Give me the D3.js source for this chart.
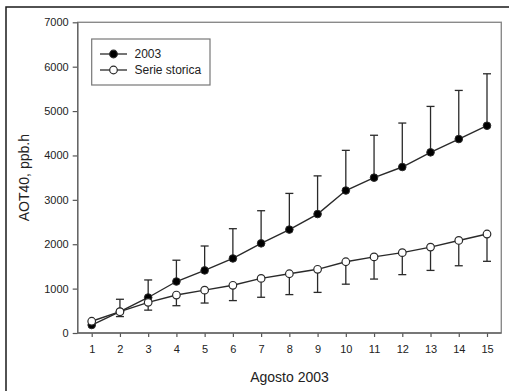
<!DOCTYPE html>
<html>
<head>
<meta charset="utf-8">
<script src="https://cdn.jsdelivr.net/npm/d3@7"></script>
<style>
  html, body { margin: 0; padding: 0; background: #fff; }
  svg { display: block; font-family: "Liberation Sans", Arial, Helvetica, sans-serif; }
</style>
</head>
<body>
<svg id="chart" width="509" height="391"></svg>
<script>
// ---- data ----
const days = [1, 2, 3, 4, 5, 6, 7, 8, 9, 10, 11, 12, 13, 14, 15];
const aot2003 = [180, 480, 800, 1160, 1410, 1680, 2020, 2330, 2680, 3210, 3500, 3740, 4070, 4370, 4670];
const aot2003Upper = [null, 760, 1195, 1640, 1960, 2350, 2755, 3145, 3540, 4115, 4455, 4730, 5105, 5465, 5840];
const storica = [265, 480, 690, 855, 965, 1075, 1230, 1335, 1435, 1605, 1715, 1810, 1935, 2085, 2230];
const storicaLower = [null, 370, 515, 615, 675, 730, 805, 865, 915, 1100, 1215, 1315, 1410, 1515, 1615];
const yTicks = [0, 1000, 2000, 3000, 4000, 5000, 6000, 7000];
const seriesNames = ["2003", "Serie storica"];
const xTitle = "Agosto 2003";
const yTitle = "AOT40, ppb.h";

(function () {
// ---- layout ----
const svg = d3.select("#chart");
const pL = 77.7, pR = 501.3, pT = 22.3, pB = 333;
const x = d3.scaleLinear().domain([1, 15]).range([91.7, 487]);
const y = d3.scaleLinear().domain([0, 7000]).range([pB, pT]);
const ink = "#2a2a2a";

// outer frame
svg.append("rect").attr("x", 6).attr("y", 7).attr("width", 520).attr("height", 400)
  .attr("fill", "none").attr("stroke", "#1a1a1a").attr("stroke-width", 1.5);

// plot frame (top/right)
svg.append("rect").attr("x", pL).attr("y", pT).attr("width", pR - pL).attr("height", pB - pT)
  .attr("fill", "none").attr("stroke", "#8a8a8a").attr("stroke-width", 1.4);

// axes
const yAxis = svg.append("g").attr("transform", `translate(${pL},0)`)
  .call(d3.axisLeft(y).tickValues(yTicks).tickSize(5).tickPadding(4).tickFormat(d3.format("d")));
const xAxis = svg.append("g").attr("transform", `translate(0,${pB})`)
  .call(d3.axisBottom(x).tickValues(days).tickSize(4).tickPadding(8).tickFormat(d3.format("d")));
[yAxis, xAxis].forEach(g => {
  g.select(".domain").remove();
  g.selectAll(".tick line").attr("stroke", "#555").attr("stroke-width", 1.2);
  g.selectAll(".tick text").attr("fill", "#222").style("font-size", "11px")
    .style("font-family", "'Liberation Sans', Arial, sans-serif");
});
svg.append("line").attr("x1", pL).attr("x2", pL).attr("y1", pT).attr("y2", pB)
  .attr("stroke", "#666").attr("stroke-width", 1.4);
svg.append("line").attr("x1", pL).attr("x2", pR).attr("y1", pB).attr("y2", pB)
  .attr("stroke", "#666").attr("stroke-width", 1.4);

// axis titles
svg.append("text").attr("x", (pL + pR) / 2).attr("y", 382).attr("text-anchor", "middle")
  .attr("fill", "#222").style("font-size", "14px").text(xTitle);
svg.append("text").attr("transform", `translate(29,${(pT + pB) / 2}) rotate(-90)`)
  .attr("text-anchor", "middle").attr("fill", "#222").style("font-size", "14px").text(yTitle);

const capW = 4;
function errorBars(vals, ends) {
  const g = svg.append("g").attr("stroke", ink).attr("stroke-width", 1.3);
  days.forEach((d, i) => {
    if (ends[i] == null) return;
    g.append("line").attr("x1", x(d)).attr("x2", x(d)).attr("y1", y(vals[i])).attr("y2", y(ends[i]));
    g.append("line").attr("x1", x(d) - capW).attr("x2", x(d) + capW).attr("y1", y(ends[i])).attr("y2", y(ends[i]));
  });
}
const line = d3.line().x((d, i) => x(days[i])).y(d => y(d));

// 2003 series
errorBars(aot2003, aot2003Upper);
svg.append("path").datum(aot2003).attr("d", line).attr("fill", "none").attr("stroke", ink).attr("stroke-width", 1.4);
svg.append("g").selectAll("circle").data(aot2003).join("circle")
  .attr("cx", (d, i) => x(days[i])).attr("cy", d => y(d)).attr("r", 3.8)
  .attr("fill", "#000").attr("stroke", ink).attr("stroke-width", 1);

// Serie storica
errorBars(storica, storicaLower);
svg.append("path").datum(storica).attr("d", line).attr("fill", "none").attr("stroke", ink).attr("stroke-width", 1.4);
svg.append("g").selectAll("circle").data(storica).join("circle")
  .attr("cx", (d, i) => x(days[i])).attr("cy", d => y(d)).attr("r", 3.8)
  .attr("fill", "#fff").attr("stroke", ink).attr("stroke-width", 1.2);

// legend
const lg = svg.append("g");
lg.append("rect").attr("x", 91.7).attr("y", 39).attr("width", 118.3).attr("height", 46)
  .attr("fill", "#fff").attr("stroke", "#777").attr("stroke-width", 1.2);
const fills = ["#000", "#fff"];
seriesNames.forEach((name, i) => {
  const yy = 54 + i * 16;
  lg.append("line").attr("x1", 100).attr("x2", 127).attr("y1", yy).attr("y2", yy)
    .attr("stroke", ink).attr("stroke-width", 1.3);
  lg.append("circle").attr("cx", 113.5).attr("cy", yy).attr("r", 3.8)
    .attr("fill", fills[i]).attr("stroke", ink).attr("stroke-width", 1.2);
  lg.append("text").attr("x", 134.5).attr("y", yy + 4.3).attr("fill", "#222")
    .style("font-size", "12px").text(name);
});
})();
</script>
</body>
</html>
